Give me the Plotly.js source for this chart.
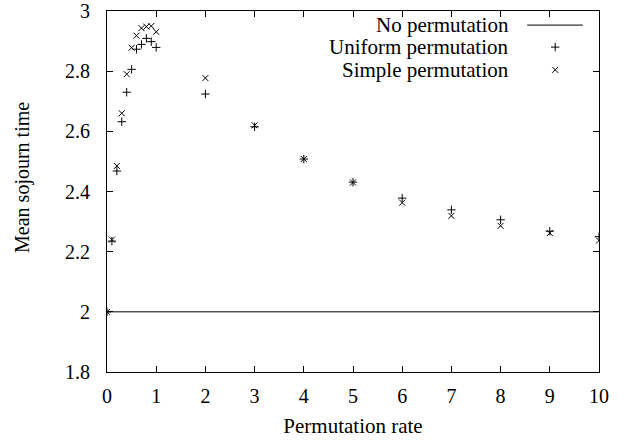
<!DOCTYPE html>
<html>
<head>
<meta charset="utf-8">
<script src="https://cdn.plot.ly/plotly-3.0.1.min.js"></script>
<style>html,body{margin:0;padding:0;background:#fff;}</style>
</head>
<body>
<div id="chart" style="width:623px;height:443px;"></div>
<script>
// Data
const rates = [0, 0.1, 0.2, 0.3, 0.4, 0.5, 0.6, 0.7, 0.8, 0.9, 1, 2, 3, 4, 5, 6, 7, 8, 9, 10];
const uniformPerm = [2.0, 2.235, 2.468, 2.632, 2.73, 2.806, 2.873, 2.889, 2.909, 2.898, 2.879, 2.724, 2.615, 2.508, 2.431, 2.378, 2.339, 2.306, 2.268, 2.25];
const simplePerm  = [2.0, 2.240, 2.485, 2.660, 2.79, 2.878, 2.918, 2.943, 2.948, 2.950, 2.931, 2.777, 2.620, 2.508, 2.430, 2.363, 2.319, 2.286, 2.262, 2.237];
const noPermX = [0, 10];
const noPermY = [2, 2];
const seriesNames = ["No permutation", "Uniform permutation", "Simple permutation"];
const xTicks = [0, 1, 2, 3, 4, 5, 6, 7, 8, 9, 10];
const yTicks = [1.8, 2, 2.2, 2.4, 2.6, 2.8, 3];

const FONT = "Liberation Serif, Times New Roman, serif";
const fsTick = 20;
const fsText = 21;

const markerStyle = (sym) => ({symbol: sym, size: 6, color: "black", line: {color: "black", width: 1}});

const traces = [
  {x: noPermX, y: noPermY, mode: "lines", line: {color: "black", width: 1}, name: seriesNames[0], showlegend: false, hoverinfo: "skip"},
  {x: rates, y: uniformPerm, mode: "markers", marker: markerStyle("cross-thin"), name: seriesNames[1], showlegend: false},
  {x: rates, y: simplePerm, mode: "markers", marker: markerStyle("x-thin"), name: seriesNames[2], showlegend: false},
  // legend samples (on an overlay axis in paper-like units)
  {x: [0.854, 0.967], y: [0.961, 0.961], xaxis: "x2", yaxis: "y2", mode: "lines", line: {color: "black", width: 1}, showlegend: false, hoverinfo: "skip"},
  {x: [0.911], y: [0.900], xaxis: "x2", yaxis: "y2", mode: "markers", marker: markerStyle("cross-thin"), showlegend: false, hoverinfo: "skip"},
  {x: [0.911], y: [0.837], xaxis: "x2", yaxis: "y2", mode: "markers", marker: markerStyle("x-thin"), showlegend: false, hoverinfo: "skip"}
];

const axisCommon = {
  showgrid: false, zeroline: false, showline: true, linecolor: "black", linewidth: 1,
  mirror: "ticks", ticks: "inside", ticklen: 6, tickcolor: "black", tickwidth: 1,
  tickfont: {family: FONT, size: fsTick, color: "black"}
};

const layout = {
  width: 623, height: 443,
  margin: {l: 107, r: 24, t: 11, b: 71},
  paper_bgcolor: "white", plot_bgcolor: "white",
  showlegend: false,
  font: {family: FONT, size: fsText, color: "black"},
  xaxis: Object.assign({}, axisCommon, {
    range: [0, 10], tickvals: xTicks, ticktext: xTicks.map(String), ticklabelstandoff: 6,
    title: {text: "Permutation rate", font: {family: FONT, size: fsText, color: "black"}, standoff: 12}
  }),
  yaxis: Object.assign({}, axisCommon, {
    range: [1.8, 3], tickvals: yTicks, ticktext: yTicks.map(v => String(v)), ticklabelstandoff: 12
  }),
  xaxis2: {overlaying: "x", range: [0, 1], visible: false, fixedrange: true},
  yaxis2: {overlaying: "y", range: [0, 1], visible: false, fixedrange: true},
  annotations: [
    {text: "Mean sojourn time", textangle: -90, xref: "paper", yref: "paper", x: -0.173, y: 0.54, showarrow: false, xanchor: "center", yanchor: "middle", font: {family: FONT, size: 20, color: "black"}},
    {text: seriesNames[0], xref: "paper", yref: "paper", x: 0.821, y: 0.961, showarrow: false, xanchor: "right", yanchor: "middle", font: {family: FONT, size: fsText, color: "black"}},
    {text: seriesNames[1], xref: "paper", yref: "paper", x: 0.821, y: 0.900, showarrow: false, xanchor: "right", yanchor: "middle", font: {family: FONT, size: fsText, color: "black"}},
    {text: seriesNames[2], xref: "paper", yref: "paper", x: 0.821, y: 0.837, showarrow: false, xanchor: "right", yanchor: "middle", font: {family: FONT, size: fsText, color: "black"}}
  ]
};

Plotly.newPlot("chart", traces, layout, {staticPlot: true, displayModeBar: false});
</script>
</body>
</html>
